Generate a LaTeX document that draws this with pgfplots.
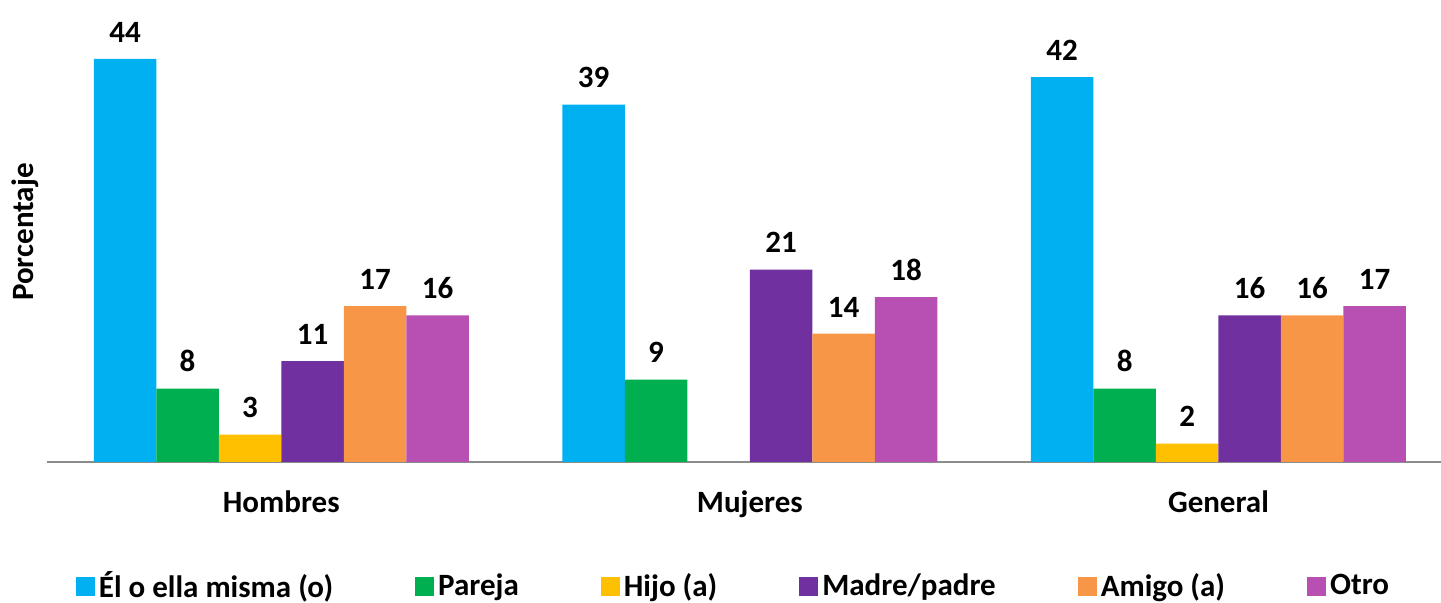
\documentclass[border=0pt]{standalone}
\usepackage{fontspec}
\setmainfont{Carlito}
\usepackage{pgfplots}
\pgfplotsset{compat=1.18}
\definecolor{cBlue}{HTML}{00B0F0}
\definecolor{cGreen}{HTML}{00B050}
\definecolor{cYellow}{HTML}{FFC000}
\definecolor{cPurple}{HTML}{7030A0}
\definecolor{cOrange}{HTML}{F79646}
\definecolor{cPink}{HTML}{B84FB2}
\definecolor{cAxis}{HTML}{8C8C8C}
\newcommand\cf{\fontsize{15.5}{18}\selectfont\bfseries}

\begin{document}
\begin{tikzpicture}
\useasboundingbox (0,0) rectangle (720.5pt,301.5pt);
\begin{axis}[
  at={(23.5pt,70.5pt)}, anchor=south west,
  scale only axis, width=697pt, height=230pt,
  ybar=0pt, bar width=0.1334,
  xmin=-0.5, xmax=2.475, ymin=0, ymax=50.2,
  enlargelimits=false, clip=false,
  axis x line*=bottom, axis y line*=left,
  x axis line style={cAxis, line width=0.9pt, -},
  y axis line style={draw=none},
  xtick={0,1,2}, xticklabels={Hombres,Mujeres,General},
  ytick=\empty, major tick length=0pt,
  xticklabel style={font=\cf, anchor=base, yshift=-25.5pt},
  /pgf/number format/assume math mode=true,
  ylabel={Porcentaje},
  every axis y label/.style={at={(axis description cs:-0.0158,0.5)}, rotate=90, anchor=center, font=\cf},
  nodes near coords,
  every node near coord/.append style={font=\cf, anchor=south, yshift=4.8pt},
  legend columns=6,
  legend style={at={(axis description cs:0.4932,-0.2696)}, anchor=center,
    draw=none, fill=none, font=\cf, inner sep=0pt,
    /tikz/every even column/.append style={column sep=39pt}},
  legend image code/.code={\fill[#1] (0pt,-4.75pt) rectangle (9.5pt,4.75pt);},
]
\addplot[fill=cBlue, draw=none] coordinates {(0,44) (1,39) (2,42)};
\addplot[fill=cGreen, draw=none] coordinates {(0,8) (1,9) (2,8)};
\addplot[fill=cYellow, draw=none] coordinates {(0,3) (2,2)};
\addplot[fill=cPurple, draw=none] coordinates {(0,11) (1,21) (2,16)};
\addplot[fill=cOrange, draw=none] coordinates {(0,17) (1,14) (2,16)};
\addplot[fill=cPink, draw=none] coordinates {(0,16) (1,18) (2,17)};
\legend{Él o ella misma (o),Pareja,Hijo (a),Madre/padre,Amigo (a),Otro}
\end{axis}
\end{tikzpicture}
\end{document}
